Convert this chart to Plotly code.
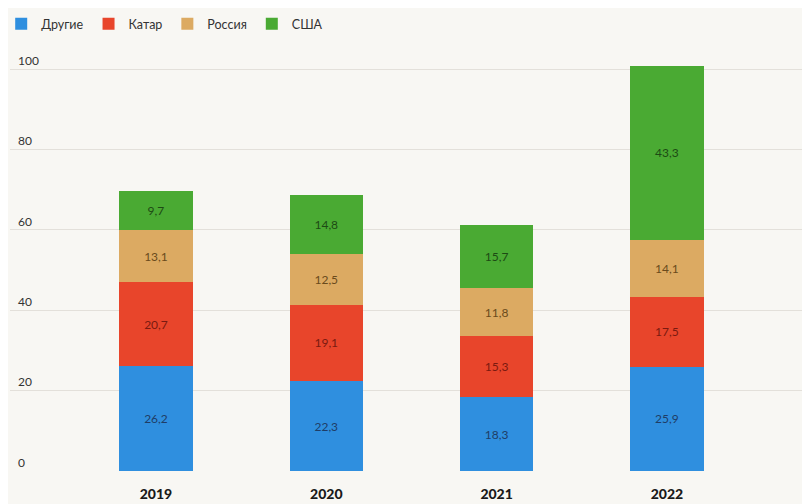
import plotly.graph_objects as go

years = ["2019", "2020", "2021", "2022"]
series_names = ["Другие", "Катар", "Россия", "США"]
drugie = [26.2, 22.3, 18.3, 25.9]
katar = [20.7, 19.1, 15.3, 17.5]
rossiya = [13.1, 12.5, 11.8, 14.1]
ssha = [9.7, 14.8, 15.7, 43.3]
y_ticks = [0, 20, 40, 60, 80, 100]

colors = ["#2f8fdf", "#e8452b", "#dcaa62", "#4aaa33"]
text_colors = ["#1f3d66", "#7a1a10", "#6a4a1c", "#1d4a14"]

fig = go.Figure()
for name, vals, c, tc in zip(series_names, [drugie, katar, rossiya, ssha], colors, text_colors):
    fig.add_trace(go.Bar(
        x=years, y=vals, name=name,
        marker=dict(color=c, line=dict(width=0)),
        text=[f"{v:.1f}".replace(".", ",") for v in vals],
        textposition="inside", insidetextanchor="middle",
        textfont=dict(color=tc, size=12, family="Lato"),
        hoverinfo="skip",
    ))

fig.update_layout(
    barmode="stack",
    width=810, height=504,
    bargap=0.57,
    paper_bgcolor="#f8f7f3",
    plot_bgcolor="#f8f7f3",
    margin=dict(l=2, r=8, t=52, b=41, autoexpand=False),
    font=dict(family="Lato", color="#333333"),
    showlegend=True,
    legend=dict(orientation="h", x=-0.011, xanchor="left",
                y=1.124, yanchor="top",
                font=dict(size=12.5, color="#333333"), traceorder="normal",
                itemwidth=30, bgcolor="rgba(0,0,0,0)"),
    xaxis=dict(range=[-0.857, 3.84], showgrid=False, zeroline=False, showline=False,
               tickfont=dict(size=14, color="#1a1a1a", family="Lato Black"),
               ticks="outside", ticklen=10, tickcolor="rgba(0,0,0,0)"),
    yaxis=dict(range=[0, 102.24], tickvals=y_ticks, ticktext=[str(t) for t in y_ticks],
               ticklabelposition="inside top", ticklabeloverflow="allow",
               showgrid=True, gridcolor="#e3e0da",
               gridwidth=1, zeroline=False, showline=False,
               tickfont=dict(size=12, color="#333333"), ticklabelstandoff=5),
)
fig.write_html("out.html")
